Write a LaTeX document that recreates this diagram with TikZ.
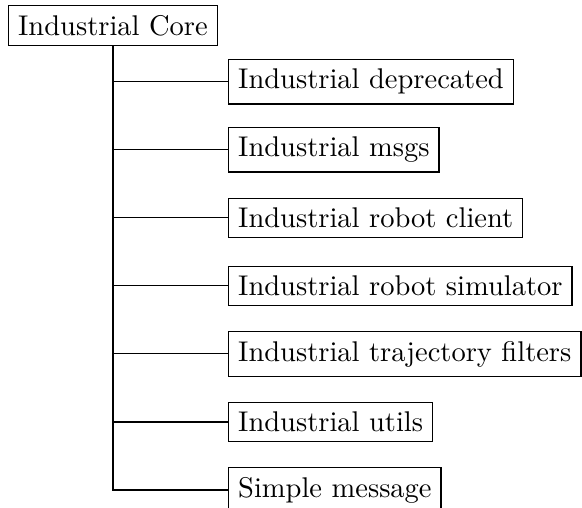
\documentclass[tikz,border=0pt]{standalone}
\begin{document}
\begin{tikzpicture}[x=0.3509pt,y=-0.3509pt,
  pkg/.style={draw,thick,line width=0.5pt,anchor=west},
  link/.style={line width=0.4pt}]
\useasboundingbox (0,0) rectangle (582,508);
\clip (0,0) rectangle (582,508);
\node[pkg,anchor=north west] (core) at (8,5) {Industrial Core};
\node[pkg] (c1) at (228,81.7) {Industrial deprecated};
\node[pkg] (c2) at (228,149.75) {Industrial msgs};
\node[pkg] (c3) at (228,217.8) {Industrial robot client};
\node[pkg] (c4) at (228,285.85) {Industrial robot simulator};
\node[pkg] (c5) at (228,353.9) {Industrial trajectory filters};
\node[pkg] (c6) at (228,421.95) {Industrial utils};
\node[pkg] (c7) at (228,490) {Simple message};
\foreach \c in {c1,c2,c3,c4,c5,c6,c7}
  \draw[link] (core.south) |- (\c.west);
\end{tikzpicture}
\end{document}
